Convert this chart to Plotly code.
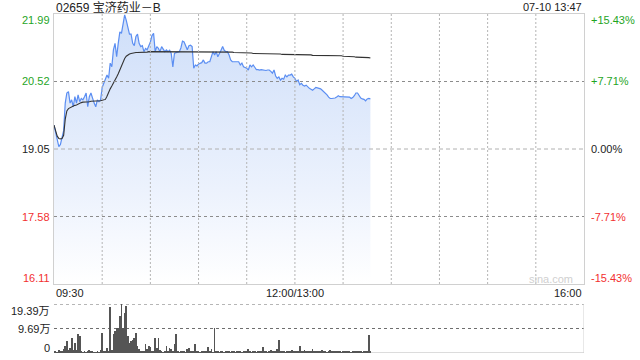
import plotly.graph_objects as go

# ---------------- data ----------------
title_text = "02659 宝济药业－B"
stamp_text = "07-10 13:47"
prev_close = 19.05
price_ticks = [21.99, 20.52, 19.05, 17.58, 16.11]
pct_ticks = ["+15.43%", "+7.71%", "0.00%", "-7.71%", "-15.43%"]
time_labels = ["09:30", "12:00/13:00", "16:00"]
time_label_pos = [0, 150, 330]          # minutes since open on the trading-time axis
grid_minutes = [30, 60, 90, 120, 150, 180, 210, 240, 270, 300]
vol_ticks = [0, 9.69, 19.39]
vol_tick_text = ["0", "9.69万", "19.39万"]

price = [
    19.57, 19.40, 19.20, 19.10, 19.15, 19.29, 19.45, 20.05, 20.27, 20.30,
    20.05, 20.12, 19.97, 20.19, 20.05, 20.23, 20.08, 20.15, 20.12, 20.19,
    20.27, 19.97, 20.19, 20.27, 20.15, 20.05, 19.97, 20.12, 20.08, 20.12,
    20.39, 20.48, 20.55, 20.66, 20.59, 20.92, 20.84, 21.21, 21.35, 21.06,
    21.35, 21.60, 21.57, 21.82, 21.97, 21.85, 21.70, 21.55, 21.55, 21.35,
    21.30, 21.50, 21.55, 21.35, 21.28, 21.30, 21.17, 21.24, 21.21, 21.28,
    21.38, 21.52, 21.57, 21.17, 21.28, 21.24, 21.17, 21.28, 21.22, 21.17,
    21.21, 21.17, 21.20, 21.13, 20.84, 21.13, 21.15, 21.16, 21.17, 21.25,
    21.40, 21.38, 21.28, 21.21, 21.30, 21.31, 21.28, 20.81, 20.88, 20.86,
    20.90, 20.92, 20.93, 20.99, 20.92, 20.92, 20.95, 20.95, 21.05, 21.17,
    21.10, 21.17, 21.06, 21.15, 21.20, 21.28, 21.20, 21.17, 21.17, 21.10,
    20.99, 20.95, 20.95, 20.95, 20.94, 20.95, 20.88, 20.92, 20.84, 20.83,
    20.81, 20.77, 20.88, 20.84, 20.88, 20.83, 20.78, 20.78, 20.77, 20.78,
    20.77, 20.77, 20.76, 20.77, 20.77, 20.74, 20.70, 20.77, 20.64, 20.59,
    20.62, 20.55, 20.59, 20.57, 20.66, 20.62, 20.66, 20.66, 20.68, 20.62,
    20.59, 20.52, 20.55, 20.45, 20.48, 20.44, 20.42, 20.44, 20.40, 20.37,
    20.35, 20.33, 20.36, 20.39, 20.38, 20.37, 20.36, 20.33, 20.30, 20.27,
    20.23, 20.18, 20.15, 20.15, 20.15, 20.16, 20.18, 20.21, 20.19, 20.19,
    20.19, 20.19, 20.19, 20.19, 20.18, 20.15, 20.17, 20.21, 20.27, 20.27,
    20.20, 20.16, 20.14, 20.13, 20.10, 20.14, 20.15, 20.14,
]

avg_price = [
    19.57, 19.45, 19.33, 19.28, 19.27, 19.28, 19.35, 19.70, 19.88, 19.93,
    19.95, 19.96, 19.98, 20.00, 20.01, 20.03, 20.05, 20.06, 20.07, 20.07,
    20.08, 20.08, 20.08, 20.09, 20.09, 20.09, 20.09, 20.10, 20.10, 20.10,
    20.11, 20.12, 20.13, 20.20, 20.30, 20.36, 20.42, 20.50, 20.56, 20.62,
    20.69, 20.78, 20.88, 20.95, 21.02, 21.07, 21.10, 21.12, 21.13, 21.14,
    21.14, 21.15, 21.15, 21.15, 21.16, 21.16, 21.16, 21.16, 21.16, 21.17,
    21.17, 21.17, 21.17, 21.17, 21.17, 21.17, 21.17, 21.17, 21.17, 21.17,
    21.17, 21.17, 21.17, 21.17, 21.17, 21.17, 21.17, 21.17, 21.17, 21.17,
    21.17, 21.17, 21.17, 21.17, 21.17, 21.17, 21.17, 21.17, 21.17, 21.17,
    21.17, 21.17, 21.17, 21.17, 21.17, 21.17, 21.17, 21.17, 21.17, 21.17,
    21.17, 21.17, 21.17, 21.17, 21.17, 21.16, 21.16, 21.16, 21.16, 21.16,
    21.16, 21.16, 21.15, 21.15, 21.15, 21.15, 21.15, 21.15, 21.14, 21.14,
    21.14, 21.14, 21.14, 21.14, 21.13, 21.13, 21.13, 21.13, 21.13, 21.13,
    21.12, 21.12, 21.12, 21.12, 21.12, 21.12, 21.12, 21.12, 21.12, 21.12,
    21.12, 21.12, 21.11, 21.11, 21.11, 21.11, 21.11, 21.11, 21.11, 21.11,
    21.10, 21.10, 21.10, 21.10, 21.10, 21.10, 21.10, 21.10, 21.10, 21.10,
    21.10, 21.09, 21.09, 21.09, 21.09, 21.09, 21.09, 21.08, 21.08, 21.08,
    21.08, 21.08, 21.08, 21.08, 21.08, 21.08, 21.08, 21.08, 21.08, 21.08,
    21.07, 21.07, 21.07, 21.06, 21.06, 21.06, 21.06, 21.06, 21.05, 21.05,
    21.05, 21.05, 21.05, 21.05, 21.04, 21.04, 21.04, 21.03,
]

volume_wan = [
    0.6, 0.5, 0.3, 1.2, 0.8, 0.4, 1.5, 2.8, 4.7, 1.0,
    2.0, 6.0, 1.2, 4.0, 1.0, 7.6, 6.7, 0.4, 0.3, 0.8,
    0.3, 0.5, 1.0, 0.4, 0.8, 0.3, 0.2, 0.6, 0.3, 1.0,
    8.0, 0.4, 0.6, 2.0, 0.5, 18.2, 1.2, 7.4, 8.7, 10.0,
    10.0, 14.6, 19.3, 10.0, 16.0, 18.6, 6.7, 4.0, 4.8, 5.3,
    6.0, 8.0, 2.8, 1.5, 0.8, 0.5, 0.8, 3.7, 1.4, 2.8,
    2.5, 0.4, 0.8, 6.0, 2.0, 6.0, 1.0, 0.5, 0.3, 0.6,
    2.8, 0.4, 1.8, 1.5, 0.6, 3.7, 7.4, 0.8, 0.3, 0.5,
    0.4, 0.6, 0.3, 1.5, 1.8, 0.5, 0.4, 0.6, 3.5, 0.4,
    0.5, 0.3, 0.6, 0.4, 0.8, 0.5, 2.2, 0.4, 1.5, 0.3,
    9.7, 0.4, 0.5, 0.3, 0.6, 0.4, 0.3, 0.5, 0.4, 0.6,
    0.3, 0.5, 0.4, 0.3, 0.6, 0.4, 0.5, 0.3, 0.8, 0.4,
    0.6, 1.6, 0.4, 0.3, 0.5, 0.6, 0.3, 0.8, 0.4, 0.5,
    2.2, 0.4, 0.6, 0.3, 0.5, 1.0, 0.4, 0.6, 0.8, 1.5,
    5.3, 0.4, 0.6, 0.5, 0.3, 0.8, 0.5, 0.4, 1.0, 0.5,
    0.6, 0.4, 0.8, 2.9, 0.5, 0.6, 1.2, 0.4, 0.5, 0.8,
    0.5, 1.4, 0.6, 0.4, 0.8, 0.5, 0.6, 1.2, 0.4, 0.5,
    0.3, 0.6, 1.0, 0.4, 0.5, 0.8, 0.6, 0.4, 0.5, 0.3,
    0.6, 0.4, 0.5, 0.8, 0.4, 0.3, 0.6, 0.5, 0.4, 0.8,
    0.4, 0.5, 0.3, 0.6, 0.5, 0.8, 7.3, 0.4,
]

# ---------------- figure ----------------
minutes = list(range(len(price)))  # trading minutes since 09:30 (lunch break removed)
W, H = 640, 360
px_x = lambda p: p / W
px_y = lambda p: 1 - p / H

GREEN = "#1fa51f"
RED = "#f23030"
DARK = "#222222"
VGRID = "#b4b4b4"
HGRID = "#8c8c8c"
VOLGRID = "#6e6e6e"
FONT = "Liberation Sans, Arial, sans-serif"
CJK = "Liberation Sans, Noto Sans CJK SC, sans-serif"

fig = go.Figure()

fig.add_trace(go.Scatter(
    x=minutes, y=price, mode="lines",
    line=dict(color="#5b8ef2", width=1.2),
    fill="tozeroy",
    fillgradient=dict(type="vertical",
                      colorscale=[[0, "rgba(255,255,255,1)"], [0.35, "rgba(236,242,253,1)"], [1, "rgba(206,222,249,1)"]],
                      start=16.11, stop=21.99),
    hoverinfo="skip", xaxis="x", yaxis="y",
))
fig.add_trace(go.Scatter(
    x=minutes, y=avg_price, mode="lines",
    line=dict(color="#333333", width=1.1),
    hoverinfo="skip", xaxis="x", yaxis="y",
))
fig.add_trace(go.Bar(
    x=minutes, y=volume_wan, width=0.45,
    marker=dict(color="#555555", line=dict(width=0)),
    hoverinfo="skip", xaxis="x2", yaxis="y2",
))

main_x_dom = [px_x(54), px_x(584)]
fig.update_layout(
    width=W, height=H, margin=dict(l=0, r=0, t=0, b=0),
    paper_bgcolor="white", plot_bgcolor="rgba(0,0,0,0)",
    showlegend=False, bargap=0,
    font=dict(family=FONT, size=11, color=DARK),
    xaxis=dict(domain=main_x_dom, range=[0, 330], showticklabels=False, showgrid=False,
               zeroline=False, showline=True, linecolor="#d0d0d0", linewidth=1, mirror=True,
               anchor="y"),
    yaxis=dict(domain=[px_y(284), px_y(14)], range=[price_ticks[-1], price_ticks[0]],
               showticklabels=False, showgrid=False, zeroline=False,
               showline=True, linecolor="#d0d0d0", linewidth=1, mirror=True, anchor="x"),
    xaxis2=dict(domain=main_x_dom, range=[0, 330], showticklabels=False, showgrid=False,
                zeroline=False, showline=False, anchor="y2"),
    yaxis2=dict(domain=[px_y(353), px_y(304)], range=[0, vol_ticks[-1]],
                showticklabels=False, showgrid=False, zeroline=False, showline=False, anchor="x2"),
)

shapes = []
# dotted grid drawn above the area fill, as in the original
for m in grid_minutes:
    shapes.append(dict(type="line", xref="x", yref="y", x0=m, x1=m,
                       y0=price_ticks[-1], y1=price_ticks[0],
                       line=dict(color=VGRID, width=1, dash="2px,2px"), layer="above"))
for v in (price_ticks[1], price_ticks[3]):
    shapes.append(dict(type="line", xref="x", yref="y", x0=0, x1=330, y0=v, y1=v,
                       line=dict(color=HGRID, width=1, dash="dot"), layer="above"))
# previous-close dashed line
shapes.append(dict(type="line", xref="x", yref="y", x0=0, x1=330, y0=prev_close, y1=prev_close,
                   line=dict(color="#b0b0b0", width=1, dash="4px,3px"), layer="above"))
# volume panel grid / frame
for v in vol_ticks[1:]:
    shapes.append(dict(type="line", xref="x2", yref="y2", x0=0, x1=330, y0=v, y1=v,
                       line=dict(color=VOLGRID, width=1, dash="dot"), layer="below"))
shapes.append(dict(type="line", xref="x2", yref="y2", x0=0, x1=330, y0=0, y1=0,
                   line=dict(color="#b8b8b8", width=1), layer="below"))
shapes.append(dict(type="line", xref="x2", yref="y2", x0=330, x1=330, y0=0, y1=vol_ticks[-1],
                   line=dict(color="#d0d0d0", width=1)))
fig.update_layout(shapes=shapes)

ann = []
ann.append(dict(text=title_text, xref="paper", yref="paper", x=px_x(54), y=px_y(7),
                xanchor="left", yanchor="middle", showarrow=False,
                font=dict(size=12, color=DARK, family=CJK)))
ann.append(dict(text=stamp_text, xref="paper", yref="paper", x=px_x(584), y=px_y(7),
                xanchor="right", yanchor="middle", showarrow=False, font=dict(size=11, color=DARK)))

colors = [GREEN, GREEN, DARK, RED, RED]
shifts = [-6, 0, 0, 0, 6]
for v, pct, c, s in zip(price_ticks, pct_ticks, colors, shifts):
    ann.append(dict(text=f"{v:.2f}", xref="paper", yref="y", x=px_x(52), y=v, yshift=s,
                    xanchor="right", yanchor="middle", showarrow=False, font=dict(size=11, color=c)))
    ann.append(dict(text=pct, xref="paper", yref="y", x=px_x(589), y=v, yshift=s,
                    xanchor="left", yanchor="middle", showarrow=False, font=dict(size=11, color=c)))

anchors = ["left", "center", "right"]
for lab, pos, a in zip(time_labels, time_label_pos, anchors):
    ann.append(dict(text=lab, xref="x", yref="paper", x=pos, y=px_y(293),
                    xanchor=a, yanchor="middle", showarrow=False, font=dict(size=11, color=DARK)))

vshift = [5, 0, -7]
for v, t, s in zip(vol_ticks, vol_tick_text, vshift):
    ann.append(dict(text=t, xref="paper", yref="y2", x=px_x(52), y=v, yshift=s,
                    xanchor="right", yanchor="middle", showarrow=False,
                    font=dict(size=11, color=DARK, family=CJK)))

ann.append(dict(text="sina.com", xref="paper", yref="paper", x=px_x(575), y=px_y(279),
                xanchor="right", yanchor="middle", showarrow=False, font=dict(size=11, color="#d0d0d0")))

fig.update_layout(annotations=ann)
fig.write_html("out.html")
